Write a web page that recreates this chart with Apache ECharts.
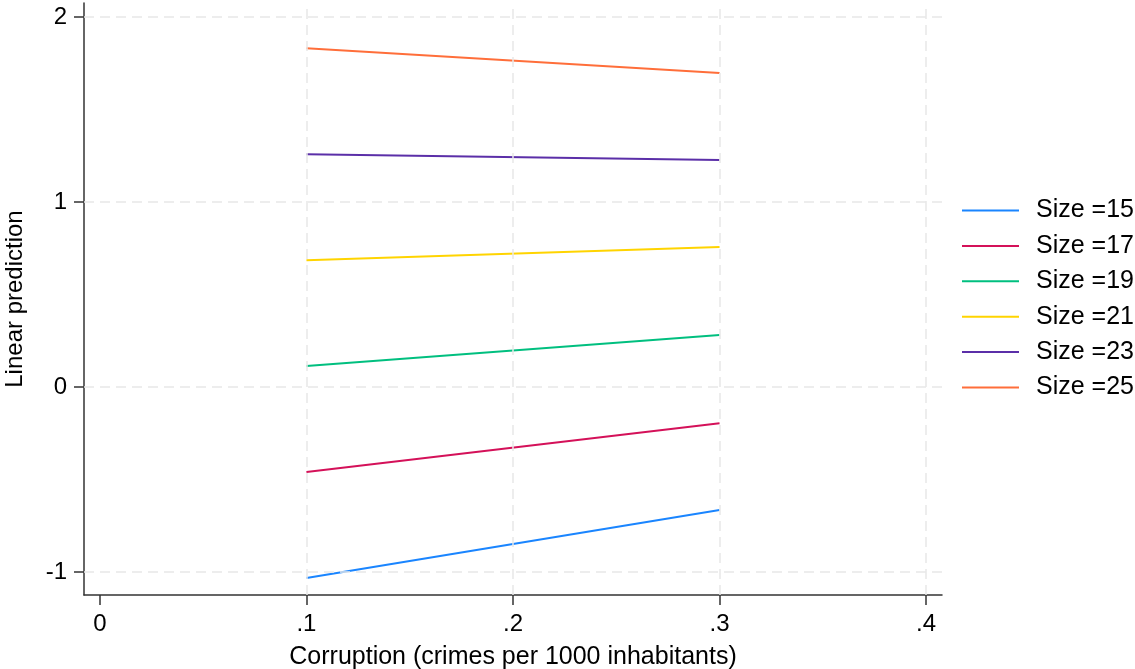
<!DOCTYPE html>
<html>
<head>
<meta charset="utf-8">
<script src="https://cdn.jsdelivr.net/npm/echarts@6/dist/echarts.min.js"></script>
<style>
html,body{margin:0;padding:0;background:#fff;}
#chart{width:1135px;height:669px;}
</style>
</head>
<body>
<div id="chart"></div>
<script>
// Data
const xPoints = [0.1, 0.3];
const seriesNames = ['Size =15', 'Size =17', 'Size =19', 'Size =21', 'Size =23', 'Size =25'];
const size15 = [-1.032, -0.665];
const size17 = [-0.459, -0.195];
const size19 = [0.114, 0.281];
const size21 = [0.686, 0.757];
const size23 = [1.259, 1.227];
const size25 = [1.832, 1.697];
const xTicks = [0, 0.1, 0.2, 0.3, 0.4];
const xTickLabels = ['0', '.1', '.2', '.3', '.4'];
const yTicks = [-1, 0, 1, 2];
const yTickLabels = ['-1', '0', '1', '2'];
const xGridValues = [0.1, 0.2, 0.3, 0.4];
const yGridValues = [-1, 0, 1, 2];

const colors = ['#1a85ff', '#d41159', '#00bf7f', '#ffd400', '#5b2fa8', '#ff6e3a'];
const allValues = [size15, size17, size19, size21, size23, size25];

const FONT = 'Liberation Sans, Arial, sans-serif';
const axisColor = '#333333';
const gridStyle = {color: '#e8e8e8', width: 1.5, type: [10, 6]};

const series = [];
series.push({
  name: '__grid',
  type: 'line',
  data: [],
  silent: true,
  z: 1,
  markLine: {
    silent: true,
    symbol: ['none', 'none'],
    label: {show: false},
    lineStyle: gridStyle,
    emphasis: {disabled: true},
    animation: false,
    data: xGridValues.map(v => ({xAxis: v})).concat(yGridValues.map(v => ({yAxis: v})))
  }
});
seriesNames.forEach((name, i) => {
  series.push({
    name: name,
    type: 'line',
    data: xPoints.map((x, j) => [x, allValues[i][j]]),
    symbol: 'none',
    z: 3,
    itemStyle: {color: colors[i]},
    lineStyle: {color: colors[i], width: 2},
    emphasis: {disabled: true}
  });
});

const chart = echarts.init(document.getElementById('chart'), null, {renderer: 'canvas'});
chart.setOption({
  animation: false,
  backgroundColor: '#ffffff',
  textStyle: {fontFamily: FONT},
  grid: {left: 84, right: 193, top: 3, bottom: 74, containLabel: false, outerBoundsMode: 'none'},
  legend: {
    orient: 'vertical',
    left: 957,
    top: 193,
    padding: 5,
    data: seriesNames,
    icon: 'rect',
    itemWidth: 57,
    itemHeight: 2,
    itemGap: 10.4,
    selectedMode: false,
    textStyle: {fontFamily: FONT, fontSize: 25, color: '#000', lineHeight: 25, padding: [0, 0, 0, 12]}
  },
  xAxis: {
    type: 'value',
    min: -0.0077,
    max: 0.4077,
    name: 'Corruption (crimes per 1000 inhabitants)',
    nameLocation: 'middle',
    nameGap: 50,
    nameTextStyle: {fontFamily: FONT, fontSize: 25, color: '#000'},
    axisLine: {show: true, onZero: false, lineStyle: {color: axisColor, width: 1.5}},
    axisTick: {show: true, length: 10, customValues: xTicks, lineStyle: {color: axisColor, width: 1.5}},
    axisLabel: {
      show: true, customValues: xTicks, margin: 17,
      fontFamily: FONT, fontSize: 24, color: '#000',
      formatter: v => { const k = xTicks.findIndex(t => Math.abs(t - v) < 1e-9); return k >= 0 ? xTickLabels[k] : ''; }
    },
    splitLine: {show: false}
  },
  yAxis: {
    type: 'value',
    min: -1.124,
    max: 2.076,
    name: 'Linear prediction',
    nameLocation: 'middle',
    nameGap: 57,
    nameTextStyle: {fontFamily: FONT, fontSize: 24, color: '#000'},
    axisLine: {show: true, onZero: false, lineStyle: {color: axisColor, width: 1.5}},
    axisTick: {show: true, length: 10, customValues: yTicks, lineStyle: {color: axisColor, width: 1.5}},
    axisLabel: {
      show: true, customValues: yTicks, margin: 17,
      fontFamily: FONT, fontSize: 24, color: '#000',
      formatter: v => { const k = yTicks.findIndex(t => Math.abs(t - v) < 1e-9); return k >= 0 ? yTickLabels[k] : ''; }
    },
    splitLine: {show: false}
  },
  series: series
});
</script>
</body>
</html>
